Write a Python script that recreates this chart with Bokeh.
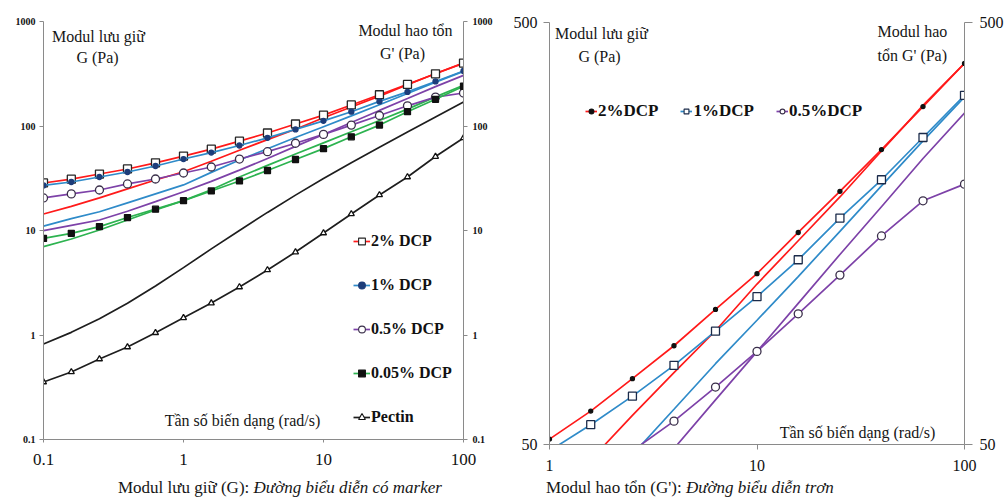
from bokeh.plotting import figure
from bokeh.layouts import row, column
from bokeh.models import (LogAxis, FixedTicker, CustomJSTickFormatter, Label, Legend,
                          LegendItem, Range1d, Div)
from bokeh.embed import file_html
from bokeh.resources import INLINE

# ---------------- data ----------------
freq = [0.1, 0.158, 0.251, 0.398, 0.631, 1.0, 1.58, 2.51, 3.98, 6.31,
        10.0, 15.8, 25.1, 39.8, 63.1, 100.0]

G_2 = [28.5, 31.0, 34.7, 38.8, 44.4, 51.5, 60.0, 71.6, 85.7, 104.5, 127, 159, 199, 250, 316, 400]
Gp_2 = [14.4, 17.0, 20.5, 25.0, 30.4, 36.5, 46.0, 58.6, 74, 93, 120, 152, 193, 248, 318, 400]
G_1 = [27.0, 29.1, 32.5, 36.3, 41.4, 48.3, 55.7, 65.1, 77, 92.8, 112, 137, 172, 212, 267, 336]
Gp_1 = [11.0, 13.0, 15.1, 18.4, 22.4, 27.3, 36.0, 47.3, 60.6, 77.7, 98.5, 125, 160, 205, 262, 333]
G_05 = [20.5, 22.4, 24.4, 27.9, 31.1, 35.5, 40.5, 48.3, 56.8, 68.4, 83.1, 102, 126, 156, 189, 207]
Gp_05 = [9.96, 11.2, 12.6, 15.3, 18.9, 23.5, 29.5, 37.8, 48.9, 63.8, 83, 108, 141, 183, 238, 305]
G_005 = [8.4, 9.4, 10.9, 13.3, 16.0, 19.3, 23.9, 29.8, 37.5, 47.8, 60.7, 78.8, 102, 137, 180, 240]
Gp_005 = [7.0, 8.3, 10.1, 12.6, 15.7, 19.3, 24.5, 32.5, 42, 54, 69, 88, 113, 145, 190, 245]
G_pec = [0.355, 0.443, 0.589, 0.767, 1.05, 1.46, 2.02, 2.88, 4.19, 6.22, 9.46, 14.4, 21.9, 32.5, 51, 76.8]
Gp_pec = [0.82, 1.06, 1.43, 2.01, 2.94, 4.41, 6.67, 10.0, 14.9, 21.8, 31.4, 44.6, 62.5, 87.5, 122, 170]

left_y_ticks = [0.1, 1, 10, 100, 1000]
left_y_labels = ["0.1", "1", "10", "100", "1000"]
left_x_ticks = [0.1, 1, 10, 100]
left_x_labels = ["0.1", "1", "10", "100"]
right_y_ticks = [50, 500]
right_y_labels = ["50", "500"]
right_x_ticks = [1, 10, 100]
right_x_labels = ["1", "10", "100"]

legend_left = ["2% DCP", "1% DCP", "0.5% DCP", "0.05% DCP", "Pectin"]
legend_right = ["2%DCP", "1%DCP", "0.5%DCP"]

RED = "#ff1a1a"
BLUE = "#2f8bc9"
PURPLE = "#7d42a8"
GREEN = "#2db350"
BLACK = "#1e1e1e"
FONT = "Liberation Serif"
AX = "#8a8a8a"

FMT_CODE = """
const i = tv.findIndex(t => Math.abs(Math.log10(t) - Math.log10(tick)) < 1e-6);
return i >= 0 ? tl[i] : '';
"""


def fmt(ticks, labels):
    return CustomJSTickFormatter(args=dict(tv=ticks, tl=labels), code=FMT_CODE)


def style_axis(ax, ticks, labels, size, bold=False, tick_out=4, standoff=5):
    ax.ticker = FixedTicker(ticks=ticks, minor_ticks=[])
    ax.formatter = fmt(ticks, labels)
    ax.axis_line_color = AX
    ax.major_tick_line_color = AX
    ax.major_tick_out = tick_out
    ax.major_tick_in = 0
    ax.minor_tick_out = 0
    ax.minor_tick_in = 0
    ax.major_label_text_font = FONT
    ax.major_label_text_font_size = f"{size}px"
    ax.major_label_text_font_style = "bold" if bold else "normal"
    ax.major_label_text_color = "#111111"
    ax.major_label_standoff = standoff


def lab(p, x0, y0, dx, dy, text, size=16, align="left", style="normal"):
    p.add_layout(Label(x=x0, y=y0, x_offset=dx, y_offset=-dy, text=text,
                       text_font=FONT, text_font_size=f"{size}px", text_align=align,
                       text_baseline="middle", text_font_style=style, text_color="#161616"))


def caption(regular, italic, width, pad):
    html = (f'<div style="font-family:\'Liberation Serif\';font-size:17px;line-height:20px;'
            f'padding-left:{pad}px;white-space:nowrap;color:#161616">'
            f'{regular}<i>{italic}</i></div>')
    return Div(text=html, width=width, height=20, margin=0)


# ---------------- left chart ----------------
p1 = figure(x_axis_type="log", y_axis_type="log",
            x_range=Range1d(0.1, 100), y_range=Range1d(0.1, 1000),
            width=508, height=478, output_backend="svg", toolbar_location=None,
            min_border_left=43, min_border_right=45, min_border_top=21, min_border_bottom=39)
p1.grid.visible = False
p1.outline_line_color = None

style_axis(p1.yaxis[0], left_y_ticks, left_y_labels, 10, bold=True, tick_out=4, standoff=4)
style_axis(p1.xaxis[0], left_x_ticks, left_x_labels, 17, tick_out=3, standoff=11)
ry1 = LogAxis()
style_axis(ry1, left_y_ticks, left_y_labels, 10, bold=True, tick_out=4, standoff=5)
p1.add_layout(ry1, "right")

# smooth G' lines (no markers)
for ys, c in [(Gp_2, RED), (Gp_1, BLUE), (Gp_05, PURPLE), (Gp_005, GREEN), (Gp_pec, BLACK)]:
    p1.line(freq, ys, line_color=c, line_width=1.7)

items = []
specs = [
    (G_2, RED, "square", 8, 6, "#262626", "white"),
    (G_1, BLUE, "circle", 5, 4, "#1d3d7a", "#1d3d7a"),
    (G_05, PURPLE, "circle", 8, 6, "#3a2f4a", "white"),
    (G_005, GREEN, "square", 6, 5, "#111111", "#111111"),
    (G_pec, BLACK, "triangle", 6, 5, "#111111", "white"),
]
for (ys, c, mk, sz, lsz, lc, fc), name in zip(specs, legend_left):
    p1.line(freq, ys, line_color=c, line_width=1.7)
    p1.scatter(freq, ys, marker=mk, size=sz, line_color=lc, fill_color=fc, line_width=1.3)
    # hidden copies with smaller markers, used only for the legend swatch
    lr = p1.line(freq, ys, line_color=c, line_width=1.7, visible=False)
    sr = p1.scatter(freq, ys, marker=mk, size=lsz, line_color=lc, fill_color=fc,
                    line_width=1.1, visible=False)
    items.append(LegendItem(label=name, renderers=[lr, sr]))

leg1 = Legend(items=items, location=(310, 12), orientation="vertical",
              glyph_width=17, glyph_height=20, label_height=20, spacing=24,
              label_standoff=1, padding=0, margin=0, border_line_color=None,
              background_fill_alpha=0, inactive_fill_alpha=0, label_text_font=FONT,
              label_text_font_size="16px", label_text_font_style="bold",
              label_text_color="#111111")
p1.add_layout(leg1, "center")

lab(p1, 0.1, 1000, 55, 15, "Modul lưu giữ", 16, "center")
lab(p1, 0.1, 1000, 54, 36, "G (Pa)", 16, "center")
lab(p1, 0.1, 1000, 362, 9, "Modul hao tổn", 16, "center")
lab(p1, 0.1, 1000, 359, 32, "G' (Pa)", 16, "center")
lab(p1, 0.1, 1000, 199, 399, "Tần số biến dạng (rad/s)", 16, "center")

# ---------------- right chart ----------------
p2 = figure(x_axis_type="log", y_axis_type="log",
            x_range=Range1d(1, 100), y_range=Range1d(50, 500),
            width=498, height=478, output_backend="svg", toolbar_location=None,
            min_border_left=41, min_border_right=39, min_border_top=22, min_border_bottom=34)
p2.grid.visible = False
p2.outline_line_color = None

style_axis(p2.yaxis[0], right_y_ticks, right_y_labels, 16, tick_out=6, standoff=6)
style_axis(p2.xaxis[0], right_x_ticks, right_x_labels, 16, tick_out=5, standoff=10)
ry2 = LogAxis()
style_axis(ry2, right_y_ticks, right_y_labels, 16, tick_out=8, standoff=7)
p2.add_layout(ry2, "right")

for ys, c in [(Gp_2, RED), (Gp_1, BLUE), (Gp_05, PURPLE)]:
    p2.line(freq, ys, line_color=c, line_width=1.7)

items2 = []
specs2 = [
    (G_2, RED, "circle", 4, 4, "#111111", "#111111"),
    (G_1, BLUE, "square", 8, 6, "#1b2b4a", "white"),
    (G_05, PURPLE, "circle", 8, 6, "#3a2f4a", "white"),
]
for (ys, c, mk, sz, lsz, lc, fc), name in zip(specs2, legend_right):
    p2.line(freq, ys, line_color=c, line_width=1.7)
    p2.scatter(freq, ys, marker=mk, size=sz, line_color=lc, fill_color=fc, line_width=1.3)
    lr = p2.line(freq, ys, line_color=c, line_width=1.7, visible=False)
    sr = p2.scatter(freq, ys, marker=mk, size=lsz, line_color=lc, fill_color=fc,
                    line_width=1.1, visible=False)
    items2.append(LegendItem(label=name, renderers=[lr, sr]))

leg2 = Legend(items=items2, location=(36, 323), orientation="horizontal",
              glyph_width=12, glyph_height=20, label_height=20, spacing=22,
              label_standoff=1, padding=0, margin=0, border_line_color=None,
              background_fill_alpha=0, inactive_fill_alpha=0, label_text_font=FONT,
              label_text_font_size="17px", label_text_font_style="bold",
              label_text_color="#111111")
p2.add_layout(leg2, "center")

lab(p2, 1, 500, 52, 11, "Modul lưu giữ", 16, "center")
lab(p2, 1, 500, 50, 34, "G (Pa)", 16, "center")
lab(p2, 1, 500, 328, 9, "Modul hao", 16, "left")
lab(p2, 1, 500, 328, 33, "tổn G' (Pa)", 16, "left")
lab(p2, 1, 500, 308, 410, "Tần số biến dạng (rad/s)", 16, "center")

cap1 = caption("Modul lưu giữ (G): ", "Đường biểu diễn có marker", 508, 118)
cap2 = caption("Modul hao tổn (G'): ", "Đường biểu diễn trơn", 498, 38)

layout = row(column(p1, cap1), column(p2, cap2))
open("out.html", "w").write(file_html(layout, INLINE))
